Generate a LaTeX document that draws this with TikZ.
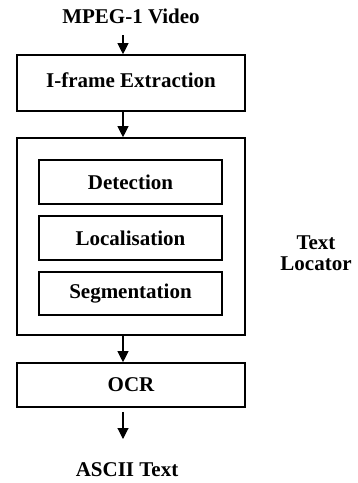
\documentclass[tikz,border=0pt]{standalone}
\usepackage{fontspec}
\setmainfont{Liberation Serif}
\usetikzlibrary{arrows.meta}
\begin{document}
\begin{tikzpicture}[x=1pt,y=-1pt,
  lbl/.style={font=\fontsize{21}{21}\selectfont\bfseries, inner sep=0pt},
  outerbox/.style={draw, line width=1.6pt, inner sep=0pt},
  innerbox/.style={draw, line width=1.2pt, inner sep=0pt},
  flow/.style={line width=1.1pt, -{Triangle[length=11pt,width=11pt]}}]
\useasboundingbox (0,0) rectangle (358,483);
\node[lbl] (in) at (131,16) {MPEG-1 Video};
\node[outerbox, minimum width=228pt, minimum height=56pt] (ifr) at (131,83) {};
\node[lbl] (ifrt) at (131,80) {I-frame Extraction};
\node[outerbox, minimum width=228pt, minimum height=197pt] (tl) at (131,236.5) {};
\node[innerbox, minimum width=183pt, minimum height=44pt] (det) at (130.5,182) {};
\node[lbl] at (det.center) {Detection};
\node[innerbox, minimum width=183pt, minimum height=44pt] (loc) at (130.5,238) {};
\node[lbl] at (loc.center) {Localisation};
\node[innerbox, minimum width=183pt, minimum height=43pt] (seg) at (130.5,293.5) {};
\node[lbl] at (seg.center) {Segmentation};
\node[lbl, align=center] (tlt) at (316,253) {Text\\Locator};
\node[outerbox, minimum width=228pt, minimum height=44pt] (ocr) at (131,385) {};
\node[lbl] at (ocr.center) {OCR};
\node[lbl] (out) at (127,470) {ASCII Text};
\coordinate (a1s) at (123,35);
\coordinate (a4e) at (123,439);
\draw[flow] (a1s) -- (a1s |- ifr.north);
\draw[flow] (ifr.south -| a1s) -- (tl.north -| a1s);
\draw[flow] (tl.south -| a1s) -- (ocr.north -| a1s);
\draw[flow] ([yshift=-4pt]ocr.south -| a1s) -- (a4e);
\end{tikzpicture}
\end{document}
